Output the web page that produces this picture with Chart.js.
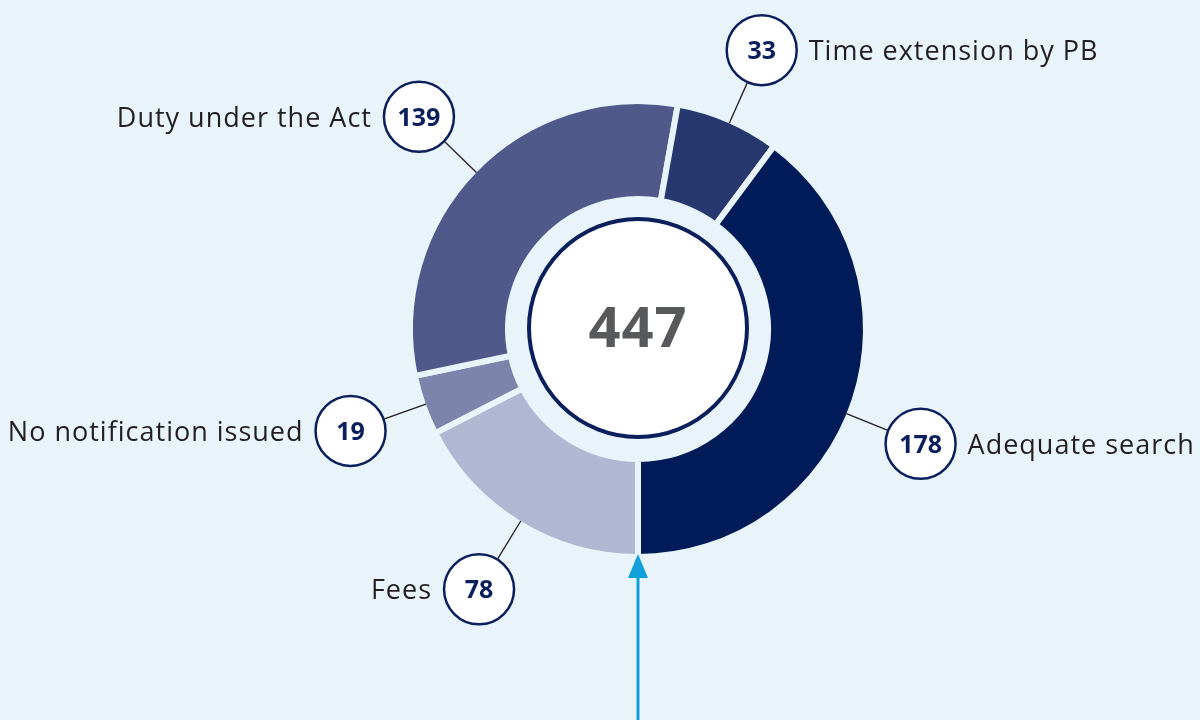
<!DOCTYPE html>
<html>
<head>
<meta charset="utf-8">
<script src="https://cdn.jsdelivr.net/npm/chart.js@4.4.1/dist/chart.umd.min.js"></script>
<style>
  html, body { margin: 0; padding: 0; background: #e8f3fa; }
  #wrap { width: 1200px; height: 720px; }
</style>
</head>
<body>
<div id="wrap"><canvas id="chart"></canvas></div>
<script>
// slices run clockwise starting at 6 o'clock
const categories = ["Fees", "No notification issued", "Duty under the Act", "Time extension by PB", "Adequate search"];
const values = [78, 19, 139, 33, 178];
const colours = ["#b1b6d2", "#7c84ab", "#4f5a8a", "#27386e", "#001b57"];

const total = values.reduce((a, b) => a + b, 0);
const bg = "#e8f3fa";
const navy = "#0b1f5c";
const textColour = "#231f20";
const fontFamily = "'Open Sans', sans-serif";

// small angle tweaks (radians) for the badges, so they don't sit exactly on the mid-angle
const badgeNudge = [0, 0, 0, 0.01, 0.066];
const badgeDist = 305;
const badgeR = 36;

const calloutPlugin = {
  id: "callouts",
  afterDraw(chart) {
    const ctx = chart.ctx;
    const arcs = chart.getDatasetMeta(0).data;
    const cx = arcs[0].x, cy = arcs[0].y;
    const edge = arcs[0].outerRadius - 3;

    ctx.save();

    // centre disc
    ctx.beginPath();
    ctx.arc(cx, cy - 1, 109, 0, Math.PI * 2);
    ctx.fillStyle = "#ffffff";
    ctx.fill();
    ctx.lineWidth = 4;
    ctx.strokeStyle = navy;
    ctx.stroke();

    ctx.fillStyle = "#58595b";
    ctx.font = "bold 56px " + fontFamily;
    ctx.textAlign = "center";
    ctx.textBaseline = "alphabetic";
    ctx.letterSpacing = "1px";
    ctx.fillText(String(total), cx, cy + 18);
    ctx.letterSpacing = "0px";

    // badges, leader lines, labels
    arcs.forEach((arc, i) => {
      const a = (arc.startAngle + arc.endAngle) / 2 + badgeNudge[i];
      const cos = Math.cos(a), sin = Math.sin(a);
      const bx = cx + badgeDist * cos, by = cy + badgeDist * sin;

      ctx.beginPath();
      ctx.moveTo(cx + edge * cos, cy + edge * sin);
      ctx.lineTo(cx + (badgeDist - badgeR) * cos, cy + (badgeDist - badgeR) * sin);
      ctx.strokeStyle = textColour;
      ctx.lineWidth = 1.3;
      ctx.stroke();

      ctx.beginPath();
      ctx.arc(bx, by, badgeR - 1, 0, Math.PI * 2);
      ctx.fillStyle = "#ffffff";
      ctx.fill();
      ctx.lineWidth = 2.5;
      ctx.strokeStyle = navy;
      ctx.stroke();

      ctx.fillStyle = navy;
      ctx.font = "bold 25px " + fontFamily;
      ctx.textAlign = "center";
      ctx.fillText(String(values[i]), bx, by + 9);

      ctx.fillStyle = textColour;
      ctx.font = "27px " + fontFamily;
      ctx.letterSpacing = "1px";
      if (bx > cx) {
        ctx.textAlign = "left";
        ctx.fillText(categories[i], bx + badgeR + 11, by + 10);
      } else {
        ctx.textAlign = "right";
        ctx.fillText(categories[i], bx - badgeR - 11, by + 10);
      }
      ctx.letterSpacing = "0px";
    });

    // arrow from the bottom edge up to the start of the ring
    const tipY = cy + edge;
    ctx.strokeStyle = "#12a0dd";
    ctx.fillStyle = "#12a0dd";
    ctx.lineWidth = 3;
    ctx.beginPath();
    ctx.moveTo(cx, chart.height);
    ctx.lineTo(cx, tipY + 20);
    ctx.stroke();
    ctx.beginPath();
    ctx.moveTo(cx, tipY);
    ctx.lineTo(cx - 10, tipY + 24);
    ctx.lineTo(cx + 10, tipY + 24);
    ctx.closePath();
    ctx.fill();

    ctx.restore();
  }
};

new Chart(document.getElementById("chart"), {
  type: "doughnut",
  data: {
    labels: categories,
    datasets: [{
      data: values,
      backgroundColor: colours,
      borderColor: bg,
      borderWidth: 6,
      hoverOffset: 0
    }]
  },
  options: {
    responsive: true,
    maintainAspectRatio: false,
    animation: false,
    rotation: 180,
    radius: 228,
    cutout: "57%",
    layout: { padding: { left: 76, right: 0, top: 0, bottom: 62 } },
    plugins: {
      legend: { display: false },
      tooltip: { enabled: false }
    }
  },
  plugins: [calloutPlugin]
});
</script>
</body>
</html>
